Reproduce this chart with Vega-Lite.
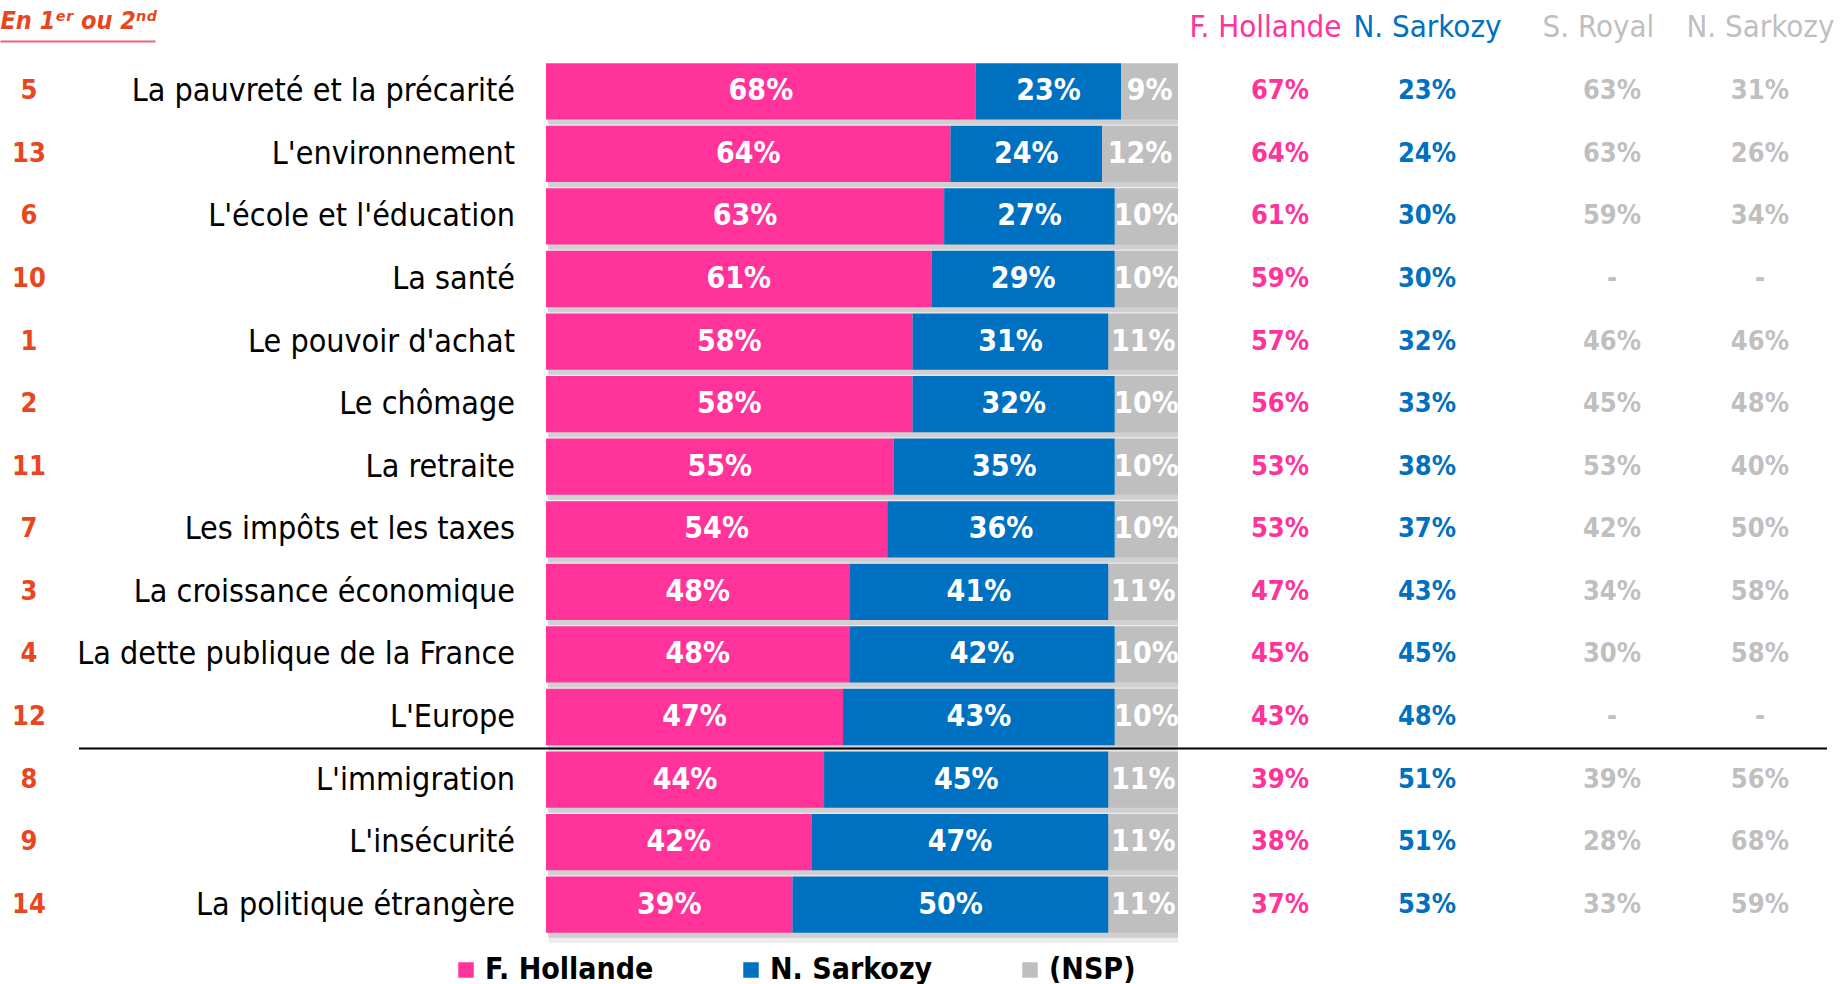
{
  "$schema": "https://vega.github.io/schema/vega-lite/v6.json",
  "background": "white",
  "padding": {"left": 0, "top": 8, "right": 0, "bottom": 0},
  "bounds": "flush",
  "datasets": {
    "themes": [
      {"n": "5", "theme": "La pauvreté et la précarité", "h": 0.68, "s": 0.23, "nsp": 0.09, "h12": "67%", "s12": "23%", "r07": "63%", "s07": "31%"},
      {"n": "13", "theme": "L'environnement", "h": 0.64, "s": 0.24, "nsp": 0.12, "h12": "64%", "s12": "24%", "r07": "63%", "s07": "26%"},
      {"n": "6", "theme": "L'école et l'éducation", "h": 0.63, "s": 0.27, "nsp": 0.10, "h12": "61%", "s12": "30%", "r07": "59%", "s07": "34%"},
      {"n": "10", "theme": "La santé", "h": 0.61, "s": 0.29, "nsp": 0.10, "h12": "59%", "s12": "30%", "r07": "-", "s07": "-"},
      {"n": "1", "theme": "Le pouvoir d'achat", "h": 0.58, "s": 0.31, "nsp": 0.11, "h12": "57%", "s12": "32%", "r07": "46%", "s07": "46%"},
      {"n": "2", "theme": "Le chômage", "h": 0.58, "s": 0.32, "nsp": 0.10, "h12": "56%", "s12": "33%", "r07": "45%", "s07": "48%"},
      {"n": "11", "theme": "La retraite", "h": 0.55, "s": 0.35, "nsp": 0.10, "h12": "53%", "s12": "38%", "r07": "53%", "s07": "40%"},
      {"n": "7", "theme": "Les impôts et les taxes", "h": 0.54, "s": 0.36, "nsp": 0.10, "h12": "53%", "s12": "37%", "r07": "42%", "s07": "50%"},
      {"n": "3", "theme": "La croissance économique", "h": 0.48, "s": 0.41, "nsp": 0.11, "h12": "47%", "s12": "43%", "r07": "34%", "s07": "58%"},
      {"n": "4", "theme": "La dette publique de la France", "h": 0.48, "s": 0.42, "nsp": 0.10, "h12": "45%", "s12": "45%", "r07": "30%", "s07": "58%"},
      {"n": "12", "theme": "L'Europe", "h": 0.47, "s": 0.43, "nsp": 0.10, "h12": "43%", "s12": "48%", "r07": "-", "s07": "-"},
      {"n": "8", "theme": "L'immigration", "h": 0.44, "s": 0.45, "nsp": 0.11, "h12": "39%", "s12": "51%", "r07": "39%", "s07": "56%"},
      {"n": "9", "theme": "L'insécurité", "h": 0.42, "s": 0.47, "nsp": 0.11, "h12": "38%", "s12": "51%", "r07": "28%", "s07": "68%"},
      {"n": "14", "theme": "La politique étrangère", "h": 0.39, "s": 0.50, "nsp": 0.11, "h12": "37%", "s12": "53%", "r07": "33%", "s07": "59%"}
    ]
  },
  "data": {"name": "themes"},
  "spacing": 21,
  "resolve": {"scale": {"x": "independent", "color": "independent"}},
  "hconcat": [
    {
      "width": 58,
      "height": 876,
      "mark": {"type": "text", "font": "DejaVu Sans Condensed", "fontWeight": "bold", "fontSize": 27, "color": "#E8461E"},
      "encoding": {
        "y": {"field": "theme", "type": "nominal", "sort": null, "axis": null, "scale": {"paddingInner": 0.33, "paddingOuter": 0.165}},
        "x": {
          "datum": "n", "type": "nominal",
          "scale": {"type": "point", "range": [0, 155], "padding": 0.5, "align": 0.187},
          "axis": {
            "orient": "top", "labels": false, "ticks": false, "grid": false,
            "domain": true, "domainColor": "#F0607A", "domainWidth": 2, "offset": 19,
            "title": "En 1ᵉʳ ou 2ⁿᵈ", "titleAnchor": "start", "titleAlign": "left", "titleX": 0, "titleY": -21,
            "titleBaseline": "middle", "titleFont": "DejaVu Sans Condensed", "titleFontStyle": "italic",
            "titleFontWeight": "bold", "titleFontSize": 25, "titleColor": "#E8461E"
          }
        },
        "text": {"field": "n"}
      }
    },
    {
      "spacing": 0,
      "bounds": "flush",
      "resolve": {"scale": {"x": "independent", "color": "independent"}},
      "hconcat": [
        {
          "width": 467,
          "height": 876,
          "layer": [
            {
              "mark": {"type": "text", "align": "right", "dx": -31, "font": "DejaVu Sans Condensed", "fontSize": 32, "color": "black"},
              "encoding": {
                "y": {"field": "theme", "type": "nominal", "sort": null, "axis": null},
                "x": {"value": "width"},
                "text": {"field": "theme"}
              }
            },
            {
              "data": {"values": [{}]},
              "mark": {"type": "rule", "color": "black", "strokeWidth": 2, "yOffset": -31},
              "encoding": {"y": {"datum": "L'immigration", "type": "nominal"}}
            }
          ]
        },
        {
          "width": 632,
          "height": 876,
          "layer": [
            {
              "mark": {"type": "bar", "color": "#a8a8a8", "opacity": 0.22, "yOffset": 10, "xOffset": 3},
              "encoding": {
                "y": {"field": "theme", "type": "nominal", "sort": null, "axis": null},
                "x": {"datum": 0, "type": "quantitative", "scale": {"domain": [0, 1]}, "axis": null},
                "x2": {"datum": 1}
              }
            },
            {
              "mark": {"type": "bar", "color": "#a8a8a8", "opacity": 0.4, "yOffset": 5, "xOffset": 2},
              "encoding": {
                "y": {"field": "theme", "type": "nominal", "sort": null, "axis": null},
                "x": {"datum": 0, "type": "quantitative", "scale": {"domain": [0, 1]}, "axis": null},
                "x2": {"datum": 1}
              }
            },
            {
              "transform": [
                {"fold": ["h", "s", "nsp"], "as": ["cand", "pct"]},
                {"window": [{"op": "row_number", "as": "k"}], "groupby": ["theme"]}
              ],
              "mark": {"type": "bar"},
              "encoding": {
                "y": {"field": "theme", "type": "nominal", "sort": null, "axis": null},
                "x": {"field": "pct", "type": "quantitative", "stack": "zero", "axis": null, "scale": {"domain": [0, 1]}},
                "color": {
                  "field": "cand", "type": "nominal",
                  "scale": {"domain": ["h", "s", "nsp"], "range": ["#FF3399", "#0070C0", "#BFBFBF"]},
                  "legend": {
                    "orient": "none", "legendX": -95, "legendY": 895, "direction": "horizontal", "title": null,
                    "symbolType": "square", "symbolSize": 240, "symbolStrokeWidth": 0,
                    "labelFont": "DejaVu Sans Condensed", "labelFontWeight": "bold", "labelFontSize": 30, "labelColor": "black",
                    "columnPadding": 82, "labelOffset": 4, "labelLimit": 400,
                    "labelExpr": "datum.label == 'h' ? 'F. Hollande' : datum.label == 's' ? 'N. Sarkozy' : '(NSP)'"
                  }
                },
                "order": {"field": "k", "type": "quantitative"}
              }
            },
            {
              "transform": [
                {"fold": ["h", "s", "nsp"], "as": ["cand", "pct"]},
                {"window": [{"op": "row_number", "as": "k"}], "groupby": ["theme"]}
              ],
              "mark": {"type": "text", "color": "white", "font": "DejaVu Sans Condensed", "fontWeight": "bold", "fontSize": 30},
              "encoding": {
                "y": {"field": "theme", "type": "nominal", "sort": null, "axis": null},
                "x": {"field": "pct", "type": "quantitative", "stack": "zero", "bandPosition": 0.5},
                "detail": {"field": "cand"},
                "order": {"field": "k", "type": "quantitative"},
                "text": {"field": "pct", "format": ".0%"}
              }
            },
            {
              "data": {"values": [{}]},
              "mark": {"type": "rule", "color": "black", "strokeWidth": 2, "yOffset": -31},
              "encoding": {"y": {"datum": "L'immigration", "type": "nominal"}}
            }
          ]
        },
        {
          "width": 351,
          "height": 876,
          "layer": [
            {
              "transform": [{"fold": ["h12", "s12"], "as": ["col", "val"]}],
              "mark": {"type": "text", "font": "DejaVu Sans Condensed", "fontWeight": "bold", "fontSize": 27},
              "encoding": {
                "y": {"field": "theme", "type": "nominal", "sort": null, "axis": null},
                "x": {
                  "field": "col", "type": "nominal", "sort": null,
                  "scale": {"type": "point", "padding": 0.694},
                  "axis": {
                    "orient": "top", "title": null, "domain": false, "ticks": false, "grid": false, "labelAngle": 0,
                    "labelFont": "DejaVu Sans Condensed", "labelFontSize": 31, "labelPadding": 17,
                    "labelOverlap": false, "labelBound": false, "labelLimit": 400,
                    "labelExpr": "datum.value == 'h12' ? 'F. Hollande' : 'N. Sarkozy'",
                    "labelOffset": {"condition": {"test": "datum.value == 'h12'", "value": -15}, "value": 0},
                    "labelColor": {"condition": {"test": "datum.value == 'h12'", "value": "#FF3399"}, "value": "#0070C0"}
                  }
                },
                "color": {"field": "col", "type": "nominal", "scale": {"domain": ["h12", "s12"], "range": ["#FF3399", "#0070C0"]}, "legend": null},
                "text": {"field": "val"}
              }
            },
            {
              "data": {"values": [{}]},
              "mark": {"type": "rule", "color": "black", "strokeWidth": 2, "yOffset": -31},
              "encoding": {"y": {"datum": "L'immigration", "type": "nominal"}}
            }
          ]
        },
        {
          "width": 298,
          "height": 876,
          "layer": [
            {
              "transform": [{"fold": ["r07", "s07"], "as": ["col", "val"]}],
              "mark": {"type": "text", "font": "DejaVu Sans Condensed", "fontWeight": "bold", "fontSize": 27, "color": "#BFBFBF"},
              "encoding": {
                "y": {"field": "theme", "type": "nominal", "sort": null, "axis": null},
                "x": {
                  "field": "col", "type": "nominal", "sort": null,
                  "scale": {"type": "point", "padding": 0.507, "align": 0.553},
                  "axis": {
                    "orient": "top", "title": null, "domain": false, "ticks": false, "grid": false, "labelAngle": 0,
                    "labelFont": "DejaVu Sans Condensed", "labelFontSize": 31, "labelPadding": 17,
                    "labelOverlap": false, "labelBound": false, "labelLimit": 400, "labelColor": "#BFBFBF",
                    "labelOffset": {"condition": {"test": "datum.value == 'r07'", "value": -14}, "value": 0},
                    "labelExpr": "datum.value == 'r07' ? 'S. Royal' : 'N. Sarkozy'"
                  }
                },
                "text": {"field": "val"}
              }
            },
            {
              "data": {"values": [{}]},
              "mark": {"type": "rule", "color": "black", "strokeWidth": 2, "yOffset": -31},
              "encoding": {"y": {"datum": "L'immigration", "type": "nominal"}}
            }
          ]
        }
      ]
    }
  ],
  "config": {
    "view": {"stroke": null},
    "font": "DejaVu Sans Condensed"
  }
}
